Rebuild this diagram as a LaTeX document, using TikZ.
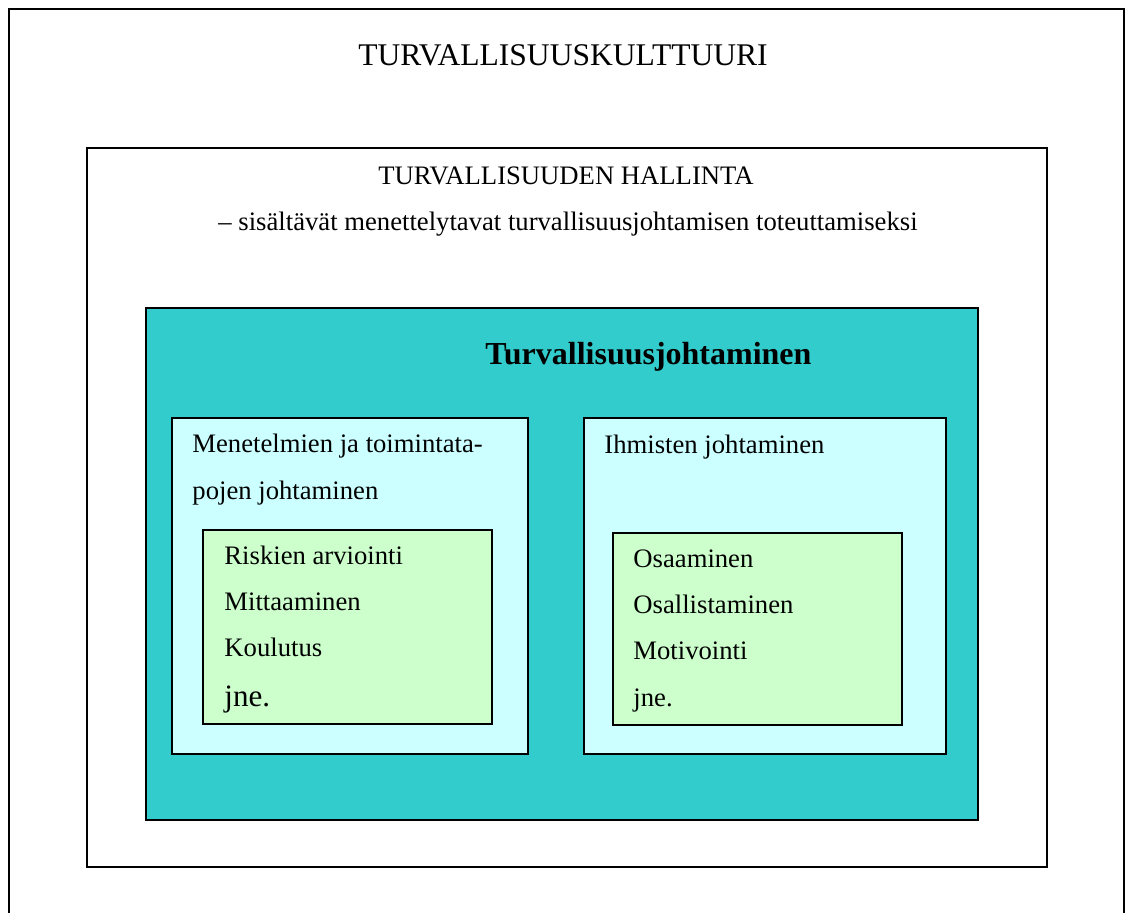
\documentclass[tikz,border=0pt]{standalone}
\usepackage{fontspec}
\setmainfont{Liberation Serif}
\definecolor{tealcolor}{HTML}{33CCCC}
\definecolor{cyancolor}{HTML}{CCFFFF}
\definecolor{greencolor}{HTML}{CCFFCC}
\usetikzlibrary{positioning,fit}
\tikzset{
	frame/.style={
		rectangle,
		draw=black,
		line width=0.9pt,
		inner sep=0pt
	},
	tealbox/.style={
		frame,
		fill=tealcolor
	},
	cyanbox/.style={
		frame,
		fill=cyancolor
	},
	greenbox/.style={
		frame,
		fill=greencolor
	},
	heading/.style={
		anchor=base,
		inner sep=0pt,
		font=\fontsize{12}{14}\selectfont
	},
	item/.style={
		anchor=base west,
		inner sep=0pt,
		font=\fontsize{12}{14}\selectfont
	},
}

\begin{document}
\begin{tikzpicture}[x=0.45pt,y=-0.45pt]
		\useasboundingbox (0,0) rectangle (1125,913);
		\coordinate (kulttuuriSW) at (9,913);
		\coordinate (kulttuuriSE) at (1124,913);
		\draw [line width=0.9pt] (kulttuuriSW) |- (kulttuuriSE |- 0,9) -- (kulttuuriSE);
		
		\node (hallinta) [frame,fit={(87,148) (1047,867)}] {};
		\node (johtaminen) [tealbox,fit={(146,308) (978,820)}] {};
		\node (menetelmat) [cyanbox,fit={(172,418) (528,754)}] {};
		\node (ihmiset) [cyanbox,fit={(584,418) (946,754)}] {};
		\node (menetelmalista) [greenbox,fit={(203,530) (492,724)}] {};
		\node (ihmislista) [greenbox,fit={(613,533) (902,725)}] {};
		
		\node (kulttuuri) [heading,font=\fontsize{14.2}{16}\selectfont] at (563,66) {TURVALLISUUSKULTTUURI};
		\node (hallintaotsikko) [heading] at (566,185) {TURVALLISUUDEN HALLINTA};
		\node (hallintateksti) [heading] at (568,231) {– sisältävät menettelytavat turvallisuusjohtamisen toteuttamiseksi};
		\node (johtamisotsikko) [item,font=\fontsize{14.4}{16}\selectfont\bfseries] at (485,365) {Turvallisuusjohtaminen};
		
		\node (menetelma1) [item] at (192,453) {Menetelmien ja toimintata-};
		\node (menetelma2) [item] at (192,500) {pojen johtaminen};
		\node (riskit) [item] at (224,565) {Riskien arviointi};
		\node (mittaus) [item] at (224,611) {Mittaaminen};
		\node (koulutus) [item] at (224,657) {Koulutus};
		\node (jne1) [item,font=\fontsize{14}{16}\selectfont] at (224,707) {jne.};
		
		\node (ihmisotsikko) [item] at (604,454) {Ihmisten johtaminen};
		\node (osaaminen) [item] at (633,568) {Osaaminen};
		\node (osallistaminen) [item] at (633,614) {Osallistaminen};
		\node (motivointi) [item] at (633,660) {Motivointi};
		\node (jne2) [item] at (633,707) {jne.};
		
		\end{tikzpicture}
\end{document}
